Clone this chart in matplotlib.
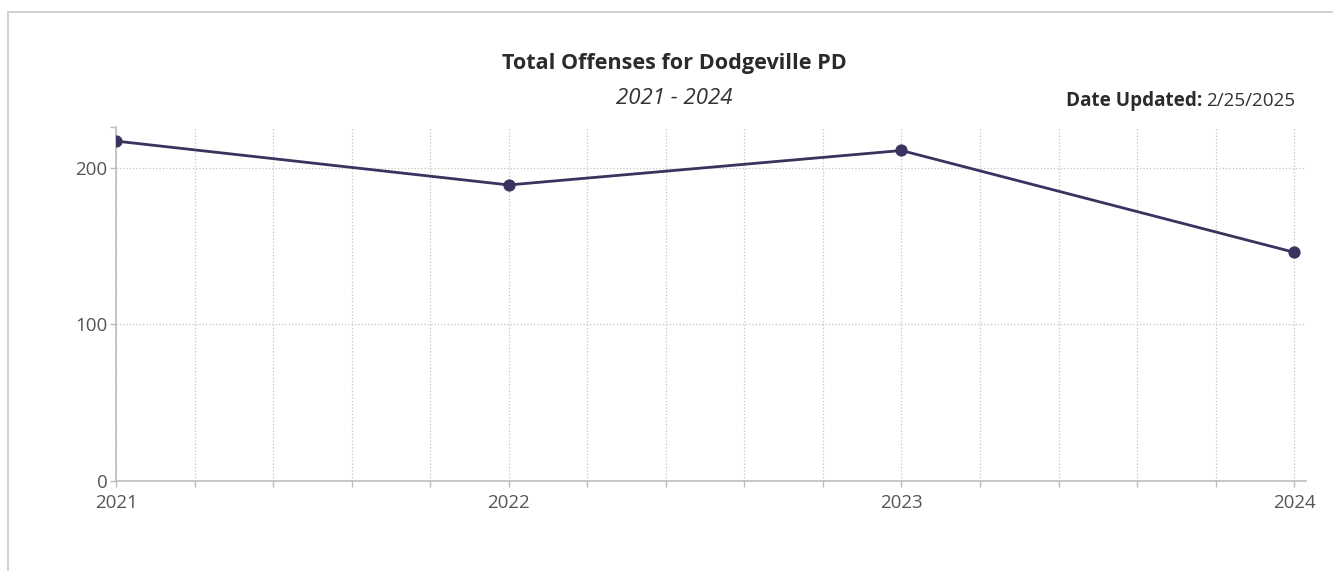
import matplotlib.pyplot as plt
from matplotlib.patches import Rectangle
from matplotlib.ticker import MultipleLocator, FixedLocator

years = [2021, 2022, 2023, 2024]
offenses = [217, 189, 211, 146]
year_labels = ['2021', '2022', '2023', '2024']
y_ticks = [0, 100, 200]

plt.rcParams['font.family'] = ['Open Sans', 'DejaVu Sans']

W, H = 1333, 571
fig = plt.figure(figsize=(W / 100, H / 100), dpi=100)
ax = fig.add_axes([116 / W, 1 - 481 / H, (1306 - 116) / W, (481 - 127) / H])

line_color = '#39335f'
ax.plot(years, offenses, color=line_color, lw=2.0, marker='o', markersize=7.8, zorder=3)

ax.set_xlim(2021, 2024.03)
ax.set_ylim(0, 226)
ax.set_xticks(years)
ax.set_xticklabels(year_labels)
ax.set_yticks(y_ticks)
ax.xaxis.set_minor_locator(MultipleLocator(0.2))
ax.yaxis.set_minor_locator(FixedLocator([226]))

ax.grid(which='major', axis='both', linestyle=':', color='#c4c4c4', lw=0.9)
ax.grid(which='minor', axis='x', linestyle=':', color='#c4c4c4', lw=0.9)

for side in ['top', 'right']:
    ax.spines[side].set_visible(False)
for side in ['left', 'bottom']:
    ax.spines[side].set_color('#bdbdbd')
    ax.spines[side].set_linewidth(1.2)

ax.tick_params(which='both', color='#bdbdbd', length=4, width=1.0,
               labelsize=13.5, labelcolor='#555555')
ax.tick_params(axis='x', pad=5)
ax.tick_params(axis='y', pad=2)

# border around the whole card
fig.patches.append(Rectangle((8 / W, -0.1), 2, 1 - 12 / H + 0.1, transform=fig.transFigure,
                             facecolor='none', edgecolor='#c8c8c8', lw=1.2))

fig.text(674 / W, 1 - 64 / H, 'Total Offenses for Dodgeville PD', ha='center', va='center',
         fontsize=15.6, fontweight='bold', color='#2b2b2b')
fig.text(674 / W, 1 - 98 / H, '2021 - 2024', ha='center', va='center',
         fontsize=16, style='italic', color='#333333')

val = fig.text(1295 / W, 1 - 101 / H, '2/25/2025', ha='right', va='center',
               fontsize=13.6, color='#333333')
fig.canvas.draw()
bb = val.get_window_extent()
fig.text(bb.x0 / W - 4 / W, 1 - 101 / H, 'Date Updated:', ha='right', va='center',
         fontsize=13.6, fontweight='bold', color='#2b2b2b')

fig.savefig('out.png', dpi=100)
